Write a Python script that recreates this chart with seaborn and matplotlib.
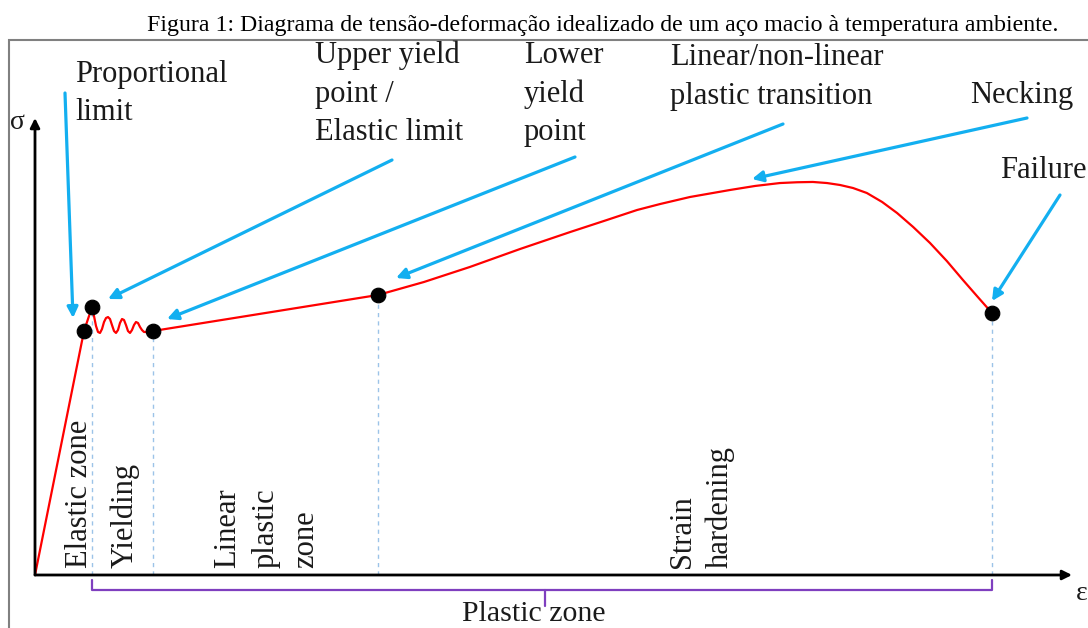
import numpy as np
import pandas as pd
import matplotlib
matplotlib.use('Agg')
import matplotlib.pyplot as plt
import seaborn as sns
from matplotlib.patches import Rectangle

# Curva tensão-deformação idealizada (deformação em %, tensão em MPa)
eps_elastico = [0.0, 1.28, 1.49]
sig_elastico = [0.0, 250.0, 274.6]

eps_escoamento = [1.541, 1.594, 1.646, 1.698, 1.750, 1.803, 1.855, 1.907, 1.959,
                  2.011, 2.064, 2.116, 2.168, 2.220, 2.273, 2.325, 2.377, 2.429,
                  2.482, 2.534, 2.586, 2.638, 2.691, 2.743, 2.795, 2.847, 2.952, 3.083]
sig_escoamento = [265.4, 255.1, 249.0, 248.0, 252.0, 259.2, 263.3, 264.3, 262.3,
                  256.1, 250.0, 248.0, 251.0, 258.2, 262.3, 261.3, 256.1, 250.0,
                  248.0, 251.0, 256.1, 259.2, 258.2, 254.1, 251.0, 249.0, 249.0, 250.0]

eps_encruamento = [8.96, 10.16, 11.36, 12.67, 13.98, 14.86, 15.73, 16.33, 17.11, 18.16,
                   18.81, 19.46, 19.91, 20.32, 20.69, 21.03, 21.37, 21.73, 22.13, 22.52,
                   22.94, 23.38, 23.82, 24.24, 24.63, 25.00]
sig_encruamento = [286.9, 300.2, 315.6, 334.0, 351.4, 362.7, 374.0, 380.1, 387.3, 394.5,
                   398.6, 401.6, 402.4, 402.7, 401.6, 399.6, 396.5, 391.4, 382.2, 370.9,
                   356.6, 340.2, 321.7, 302.3, 284.8, 268.4]

# Pontos notáveis: limite de proporcionalidade, escoamento sup./inf., transição, ruptura
eps_pontos = [1.28, 1.49, 3.083, 8.96, 25.00]
sig_pontos = [250.0, 274.6, 250.0, 286.9, 268.4]
eps_tracejado = [1.49, 3.083, 8.96, 25.00]
sig_tracejado = [274.6, 250.0, 286.9, 268.4]

curva = pd.DataFrame({
    'eps': eps_elastico + eps_escoamento + eps_encruamento,
    'sig': sig_elastico + sig_escoamento + sig_encruamento,
})
pontos = pd.DataFrame({'eps': eps_pontos, 'sig': sig_pontos})

W, H = 1088, 628
X0, Y0 = 35, 575          # origem do gráfico em pixels
KX, KY = 38.28, 0.976     # pixels por % e por MPa

sns.set_theme(style='white')
plt.rcParams['font.family'] = ['Liberation Serif', 'DejaVu Serif']

fig = plt.figure(figsize=(W / 100, H / 100), dpi=100)
ax = fig.add_axes([0, 0, 1, 1])
ax.set_xlim(-X0 / KX, (W - X0) / KX)
ax.set_ylim(-(H - Y0) / KY, Y0 / KY)
ax.axis('off')

# moldura cinza
fig.patches.append(Rectangle((9, -10), 1100, 598, transform=None, fill=False,
                             edgecolor='#808080', lw=1.5))

# eixos com setas
ax.annotate('', xy=((1072 - X0) / KX, 0), xytext=(0, 0),
            arrowprops=dict(arrowstyle='-|>', color='black', lw=2, mutation_scale=14,
                            shrinkA=0, shrinkB=0))
ax.annotate('', xy=(0, (Y0 - 118) / KY), xytext=(0, 0),
            arrowprops=dict(arrowstyle='-|>', color='black', lw=2, mutation_scale=14,
                            shrinkA=0, shrinkB=0))

ax.vlines(eps_tracejado, 0, sig_tracejado, colors='#9cc3e8', lw=1,
          linestyles=(0, (3, 3)))

sns.lineplot(data=curva, x='eps', y='sig', sort=False, estimator=None, color='red',
             lw=1.6, ax=ax)
sns.scatterplot(data=pontos, x='eps', y='sig', color='black', s=110, zorder=5,
                edgecolor='black', ax=ax)

# colchete "Plastic zone"
roxo = '#7f3fbf'
ax.plot([1.49, 1.49, 25.0, 25.0], [-5, -15.4, -15.4, -5], color=roxo, lw=1.6,
        solid_joinstyle='round')
ax.plot([(545 - X0) / KX] * 2, [-15.4, -31.8], color=roxo, lw=1.6)

# setas azuis (cauda, ponta) em pixels
azul = '#13aff0'
setas = [((65, 93), (73, 318)), ((392, 160), (108, 299)), ((575, 157), (167, 319)),
         ((783, 124), (396, 278)), ((1027, 118), (752, 179)), ((1060, 195), (992, 301))]
for (sx, sy), (tx, ty) in setas:
    ax.annotate('', xy=(tx, H - ty), xytext=(sx, H - sy), xycoords='figure pixels',
                textcoords='figure pixels',
                arrowprops=dict(arrowstyle='-|>', color=azul, lw=2.3, mutation_scale=16,
                                shrinkA=0, shrinkB=0))


def texto(x, y, s, size=22, **kw):
    fig.text(x / W, 1 - y / H, s, fontsize=size, color='#1a1a1a', va='baseline', **kw)


fig.text(603 / W, 1 - 31 / H, 'Figura 1: Diagrama de tensão-deformação idealizado de um '
         'aço macio à temperatura ambiente.', fontsize=17.2, ha='center', va='baseline',
         color='black')

for x, y, s in [(75, 82, 'Proportional'), (75, 120, 'limit'),
                (315, 63, 'Upper yield'), (315, 102, 'point /'), (315, 140, 'Elastic limit'),
                (524, 63, 'Lower'), (524, 102, 'yield'), (524, 140, 'point'),
                (670, 65, 'Linear/non-linear'), (670, 104, 'plastic transition'),
                (970, 103, 'Necking'), (1000, 178, 'Failure')]:
    texto(x, y, s)

texto(10, 129, 'σ', size=20)
texto(1076, 600, 'ε', size=20)
texto(462, 621, 'Plastic zone', size=21.5, ha='left')

for x, s in [(87, 'Elastic zone'), (133, 'Yielding'), (235, 'Linear'), (274, 'plastic'),
             (313, 'zone'), (690, 'Strain'), (728, 'hardening')]:
    fig.text(x / W, 1 - 568 / H, s, fontsize=22, color='#1a1a1a', rotation=90,
             rotation_mode='anchor', ha='left', va='baseline')

fig.savefig('out.png', dpi=100)
